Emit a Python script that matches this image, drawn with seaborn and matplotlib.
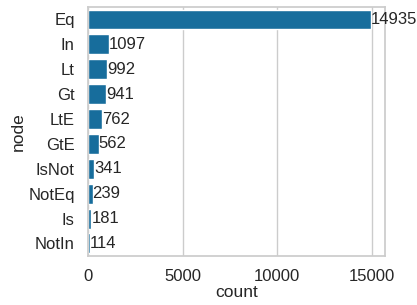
import pandas as pd
import matplotlib.pyplot as plt
import seaborn as sns

nodes = ['Eq', 'In', 'Lt', 'Gt', 'LtE', 'GtE', 'IsNot', 'NotEq', 'Is', 'NotIn']
counts = [14935, 1097, 992, 941, 762, 562, 341, 239, 181, 114]

df = pd.DataFrame({'node': nodes, 'count': counts})

sns.set_theme(style='whitegrid', palette='colorblind')
plt.rcParams['font.family'] = ['Liberation Sans', 'DejaVu Sans']

fig, ax = plt.subplots(figsize=(4.17, 3.05), dpi=100)
sns.barplot(data=df, x='count', y='node', ax=ax)
ax.bar_label(ax.containers[0], fontsize=12)
ax.tick_params(labelsize=12)
ax.set_xlabel('count', fontsize=12.5, labelpad=1)
ax.set_ylabel('node', fontsize=12.5, labelpad=2)
ax.set_xticks([0, 5000, 10000, 15000])

fig.subplots_adjust(left=0.211, right=0.923, top=0.977, bottom=0.161)
fig.savefig('out.png', dpi=100)
